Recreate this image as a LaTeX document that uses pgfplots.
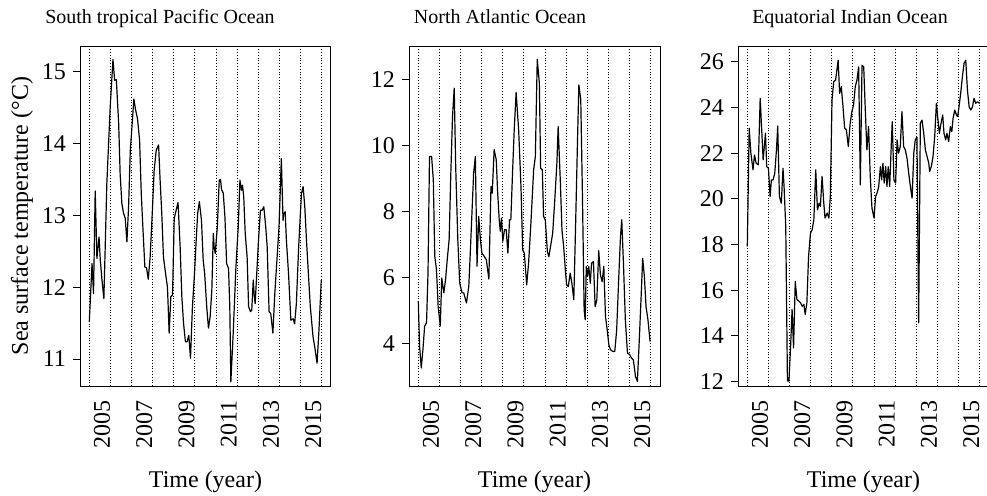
\documentclass[border=0pt]{standalone}
\usepackage{pgfplots}
\pgfplotsset{compat=1.18}
\usepackage{fontspec}
\setmainfont{Liberation Serif}

\pgfplotsset{
  panel/.style={
    scale only axis,
    width=125.5pt, height=170pt,
    xmin=2004.56, xmax=2016.44,
    axis line style={line width=0.5pt, black},
    tick align=outside,
    major tick length=3.5pt,
    ytick pos=left,
    xtick pos=bottom,
    xtick={2005.36,2007.36,2009.36,2011.36,2013.36,2015.36},
    xticklabels={2005,2007,2009,2011,2013,2015},
    x tick style={draw=none},
    y tick style={line width=0.5pt, black},
    xticklabel style={rotate=90, anchor=east, yshift=-2.5pt, font=\fontsize{12}{14}\selectfont},
    yticklabel style={font=\fontsize{12}{14}\selectfont},
    extra x ticks={2005,2006,2007,2008,2009,2010,2011,2012,2013,2014,2015,2016},
    extra x tick labels={},
    extra x tick style={grid=major, major tick length=0pt},
    major grid style={densely dotted, line width=0.45pt, black},
    /pgf/number format/assume math mode=true,
    xlabel={Time (year)},
    xlabel style={at={(axis description cs:0.5,0)}, anchor=base, yshift=-50.5pt, font=\fontsize{12}{14}\selectfont},
    clip=true,
  },
  series/.style={black, line width=0.6pt, no markers, line join=round},
}

\begin{document}
\begin{tikzpicture}
\useasboundingbox (0,0) rectangle (493.5pt,247.5pt);

% Panel 1
\begin{axis}[panel, at={(40pt,54.5pt)}, anchor=south west,
  ymin=10.624, ymax=15.358, ytick={11,12,13,14,15},
  ylabel={Sea surface temperature (°C)},
  ylabel style={at={(axis description cs:-0.231,0.5)}, anchor=center, font=\fontsize{12}{14}\selectfont}]
\addplot[series] table {
2005.00 11.52
2005.13 12.33
2005.20 11.91
2005.28 13.34
2005.36 12.40
2005.46 12.70
2005.52 12.38
2005.60 12.10
2005.69 11.84
2005.83 13.44
2005.99 14.51
2006.12 15.17
2006.20 14.88
2006.28 14.89
2006.39 14.28
2006.46 13.58
2006.54 13.17
2006.62 13.03
2006.70 12.96
2006.78 12.63
2006.86 13.12
2006.94 13.90
2007.11 14.62
2007.19 14.47
2007.28 14.35
2007.38 14.05
2007.46 13.30
2007.55 12.75
2007.63 12.28
2007.71 12.27
2007.79 12.11
2007.88 12.42
2007.98 13.03
2008.07 13.63
2008.17 13.91
2008.28 13.98
2008.35 13.50
2008.43 13.03
2008.51 12.42
2008.61 12.19
2008.70 12.00
2008.78 11.36
2008.86 11.87
2008.94 11.89
2009.02 12.96
2009.11 13.07
2009.20 13.18
2009.30 12.56
2009.38 11.87
2009.46 11.50
2009.55 11.24
2009.63 11.24
2009.71 11.33
2009.79 11.01
2009.88 11.72
2009.98 12.19
2010.06 12.66
2010.13 13.03
2010.21 13.19
2010.31 12.93
2010.39 12.38
2010.46 12.19
2010.56 11.72
2010.64 11.43
2010.72 11.59
2010.80 11.96
2010.87 12.75
2010.91 12.56
2010.96 12.47
2011.06 12.84
2011.15 13.49
2011.21 13.50
2011.26 13.36
2011.34 13.31
2011.42 12.98
2011.50 12.33
2011.59 12.26
2011.65 11.73
2011.70 10.68
2011.81 11.35
2011.94 12.28
2012.05 12.84
2012.13 13.49
2012.20 13.35
2012.25 13.42
2012.31 13.26
2012.38 12.75
2012.47 12.42
2012.54 11.73
2012.63 11.66
2012.69 11.68
2012.76 12.10
2012.80 11.91
2012.85 11.77
2012.91 12.10
2013.01 12.66
2013.10 13.07
2013.18 13.07
2013.26 13.12
2013.35 12.84
2013.42 12.56
2013.51 11.66
2013.59 11.63
2013.69 11.36
2013.78 11.91
2013.89 12.42
2013.98 12.84
2014.09 13.79
2014.17 12.93
2014.20 13.02
2014.27 13.05
2014.33 12.65
2014.43 12.19
2014.54 11.54
2014.65 11.56
2014.72 11.49
2014.80 11.77
2014.91 12.56
2015.04 13.30
2015.12 13.40
2015.20 13.12
2015.28 12.65
2015.37 12.19
2015.46 11.73
2015.59 11.31
2015.67 11.17
2015.78 10.94
2015.87 11.40
2015.98 12.10
};
\end{axis}

% Panel 2
\begin{axis}[panel, at={(204.5pt,54.5pt)}, anchor=south west,
  ymin=2.70, ymax=13.03, ytick={4,6,8,10,12}]
\addplot[series] table {
2005.00 5.28
2005.06 3.91
2005.14 3.25
2005.22 3.81
2005.30 4.52
2005.39 4.62
2005.46 6.14
2005.53 9.67
2005.63 9.67
2005.71 8.97
2005.78 6.64
2005.86 6.24
2005.94 5.12
2006.04 4.52
2006.11 5.98
2006.21 5.53
2006.29 5.93
2006.37 6.54
2006.46 7.15
2006.54 9.17
2006.62 10.89
2006.70 11.75
2006.77 9.37
2006.87 7.15
2006.96 5.83
2007.07 5.53
2007.15 5.53
2007.28 5.22
2007.39 5.73
2007.46 6.74
2007.54 7.96
2007.62 9.17
2007.70 9.67
2007.78 6.34
2007.86 7.85
2007.94 7.15
2008.01 6.74
2008.12 6.64
2008.22 6.54
2008.34 5.95
2008.44 8.76
2008.50 8.56
2008.59 9.88
2008.69 9.57
2008.75 8.66
2008.83 7.75
2008.88 7.40
2008.94 7.80
2009.00 7.10
2009.08 7.45
2009.16 7.45
2009.24 6.74
2009.32 7.75
2009.38 7.75
2009.46 9.17
2009.54 10.48
2009.63 11.62
2009.75 10.48
2009.86 8.76
2009.94 6.84
2010.02 6.73
2010.13 5.77
2010.22 6.43
2010.33 7.65
2010.46 9.27
2010.54 9.67
2010.63 12.63
2010.73 11.90
2010.79 9.32
2010.87 9.27
2010.93 7.85
2011.01 7.75
2011.11 6.78
2011.18 6.63
2011.26 6.94
2011.36 7.34
2011.45 8.25
2011.56 9.47
2011.62 10.58
2011.72 8.96
2011.80 7.44
2011.88 6.94
2011.96 6.23
2012.02 5.77
2012.10 5.72
2012.19 6.13
2012.27 5.82
2012.36 5.32
2012.44 7.44
2012.54 10.28
2012.60 11.85
2012.69 11.39
2012.77 8.46
2012.85 5.01
2012.90 4.71
2012.95 6.33
2013.01 6.03
2013.07 6.33
2013.14 5.82
2013.20 6.43
2013.29 6.48
2013.37 5.11
2013.45 5.32
2013.54 6.81
2013.62 6.08
2013.70 5.87
2013.78 6.33
2013.86 4.81
2013.94 4.41
2014.02 3.95
2014.10 3.80
2014.21 3.75
2014.30 3.75
2014.39 4.41
2014.49 6.03
2014.57 7.24
2014.63 7.75
2014.71 6.43
2014.80 4.71
2014.90 3.70
2015.01 3.65
2015.09 3.55
2015.18 3.49
2015.28 2.99
2015.37 2.84
2015.46 4.10
2015.56 5.62
2015.62 6.58
2015.70 6.03
2015.78 5.11
2015.87 4.71
2015.97 4.05
};
\end{axis}

% Panel 3
\begin{axis}[panel, at={(369pt,54.5pt)}, anchor=south west,
  ymin=11.81, ymax=26.69, ytick={12,14,16,18,20,22,24,26}]
\addplot[series] table {
2005.00 17.92
2005.09 23.09
2005.17 22.00
2005.27 21.27
2005.34 21.92
2005.42 21.56
2005.52 21.49
2005.61 24.40
2005.75 21.71
2005.86 22.87
2005.92 21.41
2006.00 21.34
2006.08 20.10
2006.14 20.83
2006.22 20.83
2006.30 21.12
2006.38 22.14
2006.44 23.19
2006.52 20.10
2006.61 19.81
2006.69 21.34
2006.74 20.54
2006.82 18.79
2006.90 12.03
2006.97 12.03
2007.05 13.55
2007.12 15.16
2007.19 13.48
2007.27 16.39
2007.35 15.59
2007.45 15.52
2007.52 15.45
2007.60 15.30
2007.68 15.38
2007.74 14.94
2007.82 15.45
2007.90 17.48
2007.99 18.50
2008.07 18.65
2008.15 19.09
2008.24 21.27
2008.32 19.52
2008.40 19.81
2008.46 19.67
2008.54 20.98
2008.62 19.81
2008.68 19.16
2008.78 19.38
2008.86 19.16
2008.93 20.10
2009.01 24.33
2009.09 25.13
2009.18 25.20
2009.30 26.07
2009.37 24.62
2009.45 24.91
2009.53 24.03
2009.61 23.09
2009.69 23.02
2009.78 22.29
2009.87 23.31
2009.95 23.82
2010.03 24.11
2010.11 24.91
2010.19 25.20
2010.27 25.78
2010.35 20.61
2010.43 25.85
2010.51 25.78
2010.58 24.03
2010.66 22.14
2010.74 23.16
2010.82 20.98
2010.90 19.60
2011.00 19.16
2011.07 20.10
2011.14 20.25
2011.22 20.54
2011.30 21.41
2011.36 20.83
2011.42 21.56
2011.48 20.69
2011.55 21.41
2011.61 20.54
2011.67 21.41
2011.74 20.54
2011.80 22.00
2011.86 23.38
2011.94 20.83
2012.02 20.69
2012.09 22.58
2012.16 22.00
2012.24 22.29
2012.32 23.82
2012.40 22.29
2012.48 22.14
2012.56 21.78
2012.64 21.12
2012.72 20.54
2012.80 20.03
2012.88 22.00
2012.95 22.58
2013.03 22.70
2013.11 14.57
2013.19 23.31
2013.27 23.45
2013.35 22.87
2013.43 22.14
2013.51 21.85
2013.59 21.56
2013.63 21.20
2013.71 21.41
2013.79 21.85
2013.87 22.72
2013.95 24.18
2014.01 23.60
2014.09 22.87
2014.17 23.31
2014.25 23.67
2014.31 22.87
2014.39 22.58
2014.45 22.87
2014.53 22.51
2014.61 23.16
2014.68 22.94
2014.74 23.53
2014.82 23.89
2014.90 23.67
2014.96 23.60
2015.02 24.03
2015.10 24.62
2015.18 25.34
2015.26 25.93
2015.34 26.07
2015.42 24.76
2015.50 24.03
2015.58 23.89
2015.66 24.03
2015.73 24.40
2015.81 24.18
2015.89 24.25
2016.00 24.18
};
\end{axis}

% Panel titles
\node[anchor=base, font=\fontsize{10}{12}\selectfont] at (80pt,236pt) {South tropical Pacific Ocean};
\node[anchor=base, font=\fontsize{10}{12}\selectfont] at (250pt,236pt) {North Atlantic Ocean};
\node[anchor=base, font=\fontsize{10}{12}\selectfont] at (425pt,236pt) {Equatorial Indian Ocean};
\end{tikzpicture}
\end{document}
